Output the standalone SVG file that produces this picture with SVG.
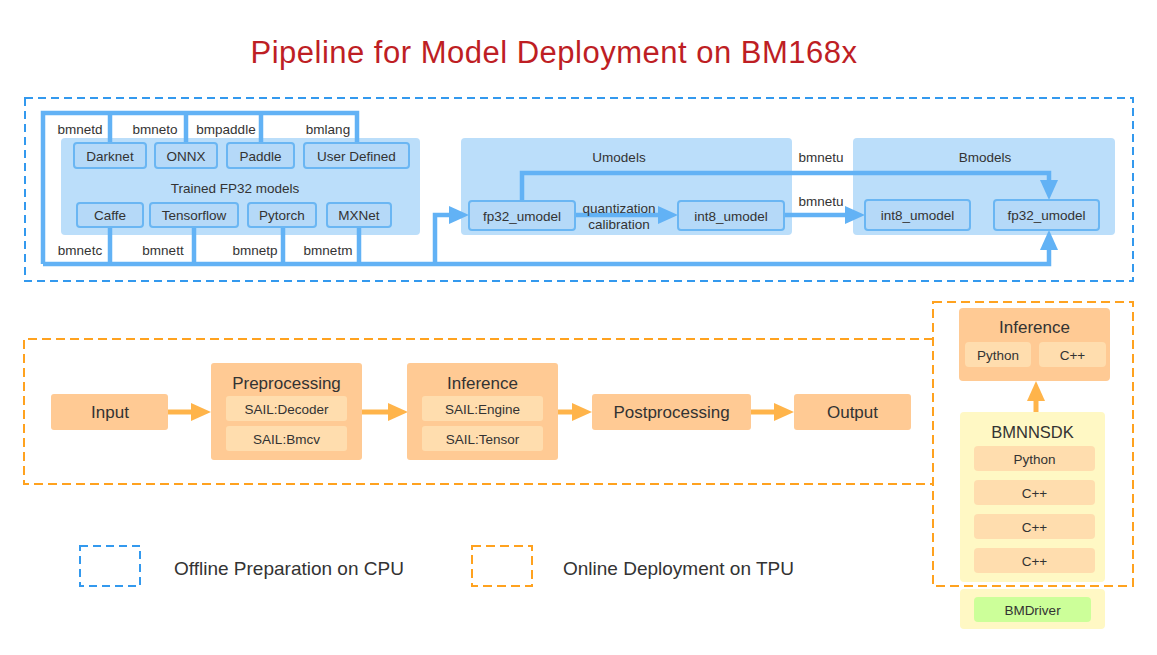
<svg xmlns="http://www.w3.org/2000/svg" width="1157" height="655" viewBox="0 0 1157 655">
<defs>
<style>
text{font-family:"Liberation Sans",Arial,sans-serif;fill:#333;text-anchor:middle}
.s13{font-size:13.5px}
.s17{font-size:17px}
.bl{fill:none;stroke:#62B2F5;stroke-width:4.5;stroke-linejoin:miter}
.ol{fill:none;stroke:#FFB44A;stroke-width:5}
.cont{fill:#BBDEFA}
.bbox{fill:#B5D9F8;stroke:#6AB6F3;stroke-width:2}
.obox{fill:#FFCA94}
.osub{fill:#FFDDAE}
.ybox{fill:#FFF8C4}
.gbox{fill:#CCFF99}
.dashb{fill:none;stroke:#3399EE;stroke-width:2;stroke-dasharray:8 5}
.dasho{fill:none;stroke:#FFA21F;stroke-width:2;stroke-dasharray:9 5}
</style>
<marker id="ab" markerUnits="userSpaceOnUse" markerWidth="20" markerHeight="18" refX="0" refY="9" orient="auto" overflow="visible"><path d="M0,0 L20,9 L0,18 z" fill="#62B2F5"/></marker>
<marker id="ao" markerUnits="userSpaceOnUse" markerWidth="20" markerHeight="18" refX="0" refY="9" orient="auto" overflow="visible"><path d="M0,0 L20,9 L0,18 z" fill="#FFB44A"/></marker>
</defs>
<rect width="1157" height="655" fill="#fff"/>
<text x="554" y="63" style="font-size:31px;fill:#BE1E24;letter-spacing:0.5px">Pipeline for Model Deployment on BM168x</text>

<g id="frames">
<rect class="dashb" x="25" y="98" width="1108" height="183"/>
<path class="dasho" d="M933,339 H24 V484 H933"/>
<rect class="dasho" x="933" y="302" width="200" height="284"/>
</g>

<g id="trained">
<rect class="cont" x="61" y="138" width="359" height="97" rx="4"/>
<text class="s13" x="235" y="193">Trained FP32 models</text>
</g>
<g id="umodels">
<rect class="cont" x="461" y="138" width="331" height="97" rx="4"/>
<text class="s13" x="619" y="162">Umodels</text>
</g>
<g id="bmodels">
<rect class="cont" x="853" y="138" width="262" height="97" rx="4"/>
<text class="s13" x="985" y="162">Bmodels</text>
</g>

<g id="connectors">
<path class="bl" d="M43,264 V113 H357 V143"/>
<path class="bl" d="M110,113 V143 M186,113 V143 M261,113 V143"/>
<path class="bl" d="M110,227 V264 M194,227 V264 M283,227 V264 M359,227 V264"/>
<path class="bl" d="M43,264 H1049 V250" marker-end="url(#ab)"/>
<path class="bl" d="M435,264 V215 H449" marker-end="url(#ab)"/>
<path class="bl" d="M522,201 V173 H1049 V180" marker-end="url(#ab)"/>
<path class="bl" d="M575,215 H658" marker-end="url(#ab)"/>
<path class="bl" d="M784,215 H845" marker-end="url(#ab)"/>
<path class="ol" d="M168,412 H191" marker-end="url(#ao)"/>
<path class="ol" d="M362,412 H388" marker-end="url(#ao)"/>
<path class="ol" d="M558,412 H572" marker-end="url(#ao)"/>
<path class="ol" d="M751,412 H774" marker-end="url(#ao)"/>
<path class="ol" d="M1036,412 V401" marker-end="url(#ao)"/>
<text class="s13" x="80" y="134">bmnetd</text>
<text class="s13" x="155" y="134">bmneto</text>
<text class="s13" x="226" y="134">bmpaddle</text>
<text class="s13" x="328" y="134">bmlang</text>
<text class="s13" x="80" y="255">bmnetc</text>
<text class="s13" x="163" y="255">bmnett</text>
<text class="s13" x="255" y="255">bmnetp</text>
<text class="s13" x="328" y="255">bmnetm</text>
<text class="s13" x="821" y="162">bmnetu</text>
<text class="s13" x="821" y="206">bmnetu</text>
<text class="s13" x="619" y="213">quantization</text>
<text class="s13" x="619" y="229">calibration</text>
</g>

<g id="darknet"><rect class="bbox" x="74" y="143" width="72" height="25" rx="3"/><text class="s13" x="110" y="160.5">Darknet</text></g>
<g id="onnx"><rect class="bbox" x="155" y="143" width="62" height="25" rx="3"/><text class="s13" x="186" y="160.5">ONNX</text></g>
<g id="paddle"><rect class="bbox" x="227" y="143" width="67" height="25" rx="3"/><text class="s13" x="260.5" y="160.5">Paddle</text></g>
<g id="userdefined"><rect class="bbox" x="304" y="143" width="105" height="25" rx="3"/><text class="s13" x="356.5" y="160.5">User Defined</text></g>
<g id="caffe"><rect class="bbox" x="77" y="203" width="66" height="24" rx="3"/><text class="s13" x="110" y="220">Caffe</text></g>
<g id="tensorflow"><rect class="bbox" x="150" y="203" width="88" height="24" rx="3"/><text class="s13" x="194" y="220">Tensorflow</text></g>
<g id="pytorch"><rect class="bbox" x="248" y="203" width="68" height="24" rx="3"/><text class="s13" x="282" y="220">Pytorch</text></g>
<g id="mxnet"><rect class="bbox" x="327" y="203" width="64" height="24" rx="3"/><text class="s13" x="359" y="220">MXNet</text></g>

<g id="u_fp32"><rect class="bbox" x="469" y="201" width="106" height="29" rx="3"/><text class="s13" x="522" y="220.5">fp32_umodel</text></g>
<g id="u_int8"><rect class="bbox" x="678" y="201" width="106" height="29" rx="3"/><text class="s13" x="731" y="220.5">int8_umodel</text></g>
<g id="b_int8"><rect class="bbox" x="865" y="200" width="105" height="30" rx="3"/><text class="s13" x="917.5" y="220">int8_umodel</text></g>
<g id="b_fp32"><rect class="bbox" x="994" y="200" width="105" height="30" rx="3"/><text class="s13" x="1046.5" y="220">fp32_umodel</text></g>

<g id="input"><rect class="obox" x="51" y="394" width="117" height="36" rx="3"/><text class="s17" x="110" y="418">Input</text></g>
<g id="preprocessing">
<rect class="obox" x="211" y="363" width="151" height="97" rx="3"/>
<text class="s17" x="286.5" y="389">Preprocessing</text>
<rect class="osub" x="226" y="396" width="121" height="25" rx="3"/><text class="s13" x="286.5" y="413.5">SAIL:Decoder</text>
<rect class="osub" x="226" y="426" width="121" height="25" rx="3"/><text class="s13" x="286.5" y="443.5">SAIL:Bmcv</text>
</g>
<g id="inference">
<rect class="obox" x="407" y="363" width="151" height="97" rx="3"/>
<text class="s17" x="482.5" y="389">Inference</text>
<rect class="osub" x="422" y="396" width="121" height="25" rx="3"/><text class="s13" x="482.5" y="413.5">SAIL:Engine</text>
<rect class="osub" x="422" y="426" width="121" height="25" rx="3"/><text class="s13" x="482.5" y="443.5">SAIL:Tensor</text>
</g>
<g id="postprocessing"><rect class="obox" x="592" y="394" width="159" height="36" rx="3"/><text class="s17" x="671.5" y="418">Postprocessing</text></g>
<g id="output"><rect class="obox" x="794" y="394" width="117" height="36" rx="3"/><text class="s17" x="852.5" y="418">Output</text></g>

<g id="inference_r">
<rect class="obox" x="959" y="308" width="151" height="73" rx="4"/>
<text class="s17" x="1034.5" y="333">Inference</text>
<rect class="osub" x="965" y="342" width="66" height="25" rx="4"/><text class="s13" x="998" y="359.5">Python</text>
<rect class="osub" x="1039" y="342" width="67" height="25" rx="4"/><text class="s13" x="1072.5" y="359.5">C++</text>
</g>
<g id="bmnnsdk">
<rect class="ybox" x="960" y="412" width="145" height="170" rx="4"/>
<text x="1032.5" y="438" style="font-size:16.5px">BMNNSDK</text>
<rect class="osub" x="974" y="446" width="121" height="25" rx="4"/><text class="s13" x="1034.5" y="463.5">Python</text>
<rect class="osub" x="974" y="480" width="121" height="25" rx="4"/><text class="s13" x="1034.5" y="497.5">C++</text>
<rect class="osub" x="974" y="514" width="121" height="25" rx="4"/><text class="s13" x="1034.5" y="531.5">C++</text>
<rect class="osub" x="974" y="548" width="121" height="25" rx="4"/><text class="s13" x="1034.5" y="565.5">C++</text>
</g>
<g id="bmdriver">
<rect class="ybox" x="960" y="589" width="145" height="40" rx="4"/>
<rect class="gbox" x="974" y="597" width="117" height="25" rx="4"/>
<text class="s13" x="1032.5" y="614.5">BMDriver</text>
</g>

<g id="legend">
<rect class="dashb" x="80" y="546" width="60" height="40"/>
<text x="174" y="575" style="font-size:19px;text-anchor:start">Offline Preparation on CPU</text>
<rect class="dasho" x="472" y="546" width="60" height="40"/>
<text x="563" y="575" style="font-size:19px;text-anchor:start">Online Deployment on TPU</text>
</g>
</svg>
